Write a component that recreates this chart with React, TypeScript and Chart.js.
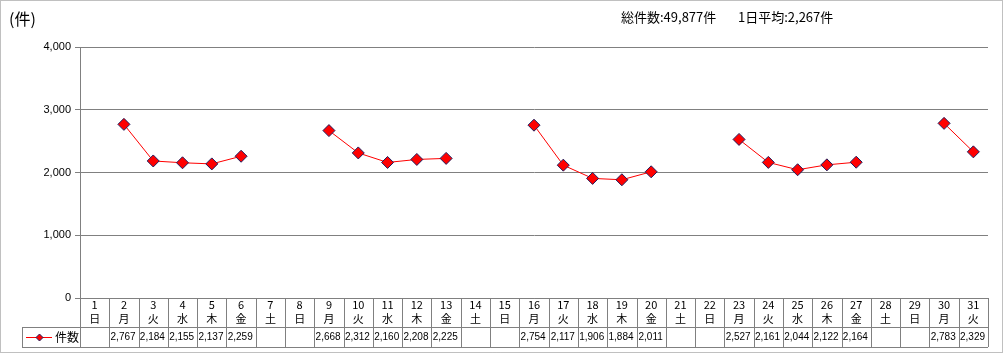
import React, { useEffect, useRef } from "react";
import { Chart, registerables } from "chart.js";

Chart.register(...registerables);

const days = ["1", "2", "3", "4", "5", "6", "7", "8", "9", "10", "11", "12", "13", "14", "15", "16", "17", "18", "19", "20", "21", "22", "23", "24", "25", "26", "27", "28", "29", "30", "31"];
const weekdays = ["日", "月", "火", "水", "木", "金", "土", "日", "月", "火", "水", "木", "金", "土", "日", "月", "火", "水", "木", "金", "土", "日", "月", "火", "水", "木", "金", "土", "日", "月", "火"];
const counts: (number | null)[] = [null, 2767, 2184, 2155, 2137, 2259, null, null, 2668, 2312, 2160, 2208, 2225, null, null, 2754, 2117, 1906, 1884, 2011, null, null, 2527, 2161, 2044, 2122, 2164, null, null, 2783, 2329];
const yMin = 0;
const yMax = 4000;
const yStep = 1000;
const seriesLabel = "件数";
const unitLabel = "(件)";
const totalText = "総件数:49,877件";
const averageText = "1日平均:2,267件";

const GRID = "#808080";
const JP = "'Noto Sans CJK JP', sans-serif";
const NUM = "'Liberation Sans', Arial, sans-serif";

const fmt = (v: number) => v.toLocaleString("en-US");

const tablePlugin = {
  id: "tablePlugin",
  beforeDraw(chart: any) {
    const ctx = chart.ctx;
    ctx.save();
    ctx.fillStyle = "#ffffff";
    ctx.fillRect(0, 0, chart.width, chart.height);
    ctx.strokeStyle = GRID;
    ctx.lineWidth = 1;
    ctx.setLineDash([1, 1]);
    ctx.strokeRect(0.5, 0.5, 1002, 352);
    ctx.restore();
  },
  afterDraw(chart: any) {
    const { ctx, chartArea } = chart;
    const x = chart.scales.x;
    const top = Math.round(chartArea.bottom);
    const rowY = 327;
    const bottom = 347;
    const headLeft = 22;
    const step = x.getPixelForValue(1) - x.getPixelForValue(0);
    ctx.save();
    ctx.strokeStyle = GRID;
    ctx.lineWidth = 1;
    ctx.beginPath();
    ctx.moveTo(headLeft, rowY + 0.5);
    ctx.lineTo(chartArea.right, rowY + 0.5);
    ctx.moveTo(headLeft, bottom + 0.5);
    ctx.lineTo(chartArea.right, bottom + 0.5);
    ctx.moveTo(headLeft + 0.5, rowY);
    ctx.lineTo(headLeft + 0.5, bottom);
    for (let i = 0; i <= days.length; i++) {
      const px = i < days.length ? x.getPixelForValue(i) - step / 2 : x.getPixelForValue(days.length - 1) + step / 2;
      const xx = Math.round(px) + 0.5;
      ctx.moveTo(xx, top);
      ctx.lineTo(xx, bottom);
    }
    ctx.stroke();

    // values row
    ctx.fillStyle = "#000";
    ctx.font = `10px ${NUM}`;
    ctx.textAlign = "right";
    ctx.textBaseline = "middle";
    counts.forEach((v, i) => {
      if (v == null) return;
      const right = x.getPixelForValue(i) + step / 2 - 3;
      ctx.fillText(fmt(v), right, 337.5);
    });

    // legend key
    ctx.strokeStyle = "#ff0000";
    ctx.beginPath();
    ctx.moveTo(26, 337.5);
    ctx.lineTo(52, 337.5);
    ctx.stroke();
    ctx.fillStyle = "#ff0000";
    ctx.strokeStyle = "#1f1f5f";
    ctx.beginPath();
    ctx.moveTo(39.5, 334);
    ctx.lineTo(43, 337.5);
    ctx.lineTo(39.5, 341);
    ctx.lineTo(36, 337.5);
    ctx.closePath();
    ctx.fill();
    ctx.stroke();
    ctx.fillStyle = "#000";
    ctx.font = `12px ${JP}`;
    ctx.textAlign = "left";
    ctx.fillText(seriesLabel, 55, 337.5);

    // titles
    ctx.font = `16px ${JP}`;
    ctx.fillText(unitLabel, 9, 19);
    ctx.font = `13px ${JP}`;
    ctx.fillText(totalText, 621, 17);
    ctx.fillText(averageText, 738, 17);
    ctx.restore();
  },
};

export default function App() {
  const ref = useRef<HTMLCanvasElement>(null);
  useEffect(() => {
    if (!ref.current) return;
    const chart = new Chart(ref.current, {
      type: "line",
      data: {
        labels: days.map((d, i) => [d, weekdays[i]]),
        datasets: [
          {
            label: seriesLabel,
            data: counts,
            borderColor: "#ff0000",
            borderWidth: 1,
            backgroundColor: "#ff0000",
            pointStyle: "rectRot",
            pointRadius: 6,
            pointBackgroundColor: "#ff0000",
            pointBorderColor: "#1f1f5f",
            pointBorderWidth: 1,
            spanGaps: false,
            tension: 0,
          },
        ],
      },
      options: {
        responsive: false,
        animation: false,
        devicePixelRatio: 1,
        layout: { padding: { top: 47, right: 17, left: 0, bottom: 0 } },
        plugins: { legend: { display: false }, tooltip: { enabled: false } },
        scales: {
          x: {
            type: "category",
            offset: true,
            grid: { display: false, drawTicks: false },
            border: { display: true, color: GRID },
            ticks: {
              autoSkip: false,
              maxRotation: 0,
              padding: 0,
              color: "#000",
              font: { family: JP, size: 11, lineHeight: "14px" },
            },
            afterFit: (s: any) => {
              s.height = 57;
            },
          },
          y: {
            min: yMin,
            max: yMax,
            ticks: {
              stepSize: yStep,
              padding: 4,
              color: "#000",
              font: { family: NUM, size: 11 },
              callback: (v: any) => fmt(Number(v)),
            },
            grid: { color: GRID, tickLength: 5 },
            border: { display: true, color: GRID },
            afterFit: (s: any) => {
              s.width = 80;
            },
          },
        },
      },
      plugins: [tablePlugin],
    });
    return () => chart.destroy();
  }, []);
  return (
    <div style={{ position: "absolute", left: 0, top: 0, width: 1005, height: 355 }}>
      <canvas ref={ref} width={1005} height={355} />
    </div>
  );
}
